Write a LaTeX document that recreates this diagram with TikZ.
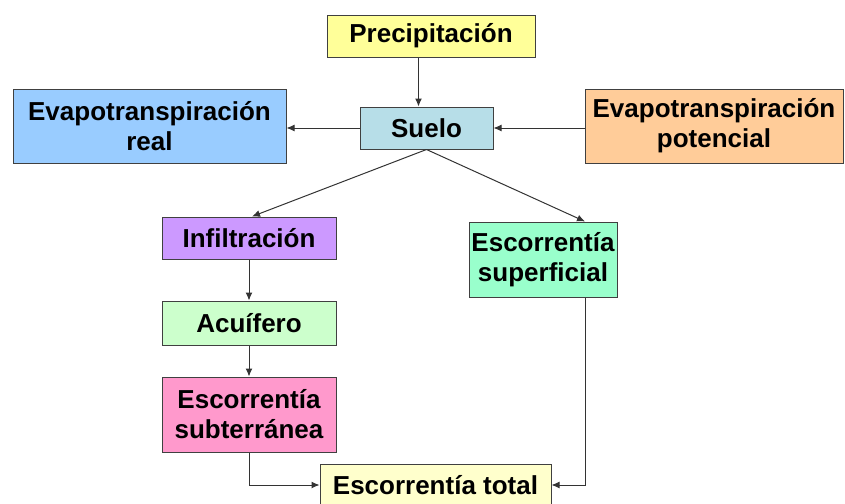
\documentclass[tikz,border=0pt]{standalone}
\usepackage{fontspec}
\setmainfont{Liberation Sans}
\usetikzlibrary{arrows.meta}

\definecolor{cprec}{RGB}{255,255,153}
\definecolor{csuelo}{RGB}{183,222,232}
\definecolor{creal}{RGB}{153,204,255}
\definecolor{cpot}{RGB}{255,204,153}
\definecolor{cinfil}{RGB}{204,153,255}
\definecolor{cacui}{RGB}{204,255,204}
\definecolor{csubt}{RGB}{255,153,204}
\definecolor{csup}{RGB}{153,255,204}
\definecolor{ctotal}{RGB}{255,255,204}

\begin{document}
\begin{tikzpicture}[x=0.5pt,y=-0.5pt,
  box/.style={draw=black!75, line width=0.5pt, align=center, inner sep=0pt,
    font=\fontsize{13}{15}\selectfont\bfseries},
  flow/.style={-{Latex[length=4pt,width=3.5pt]}, line width=0.5pt, black!80}]
  \useasboundingbox (0,0) rectangle (845,503);

  \node[box, fill=cprec, minimum width=104pt, minimum height=21pt] (prec) at (431,36) {Precipitación};
  \node[box, fill=csuelo, minimum width=66.5pt, minimum height=21pt] (suelo) at (426.5,128) {Suelo};
  \node[box, fill=creal, minimum width=136.5pt, minimum height=37pt] (real) at (149.5,126) {Evapotranspiración\\real};
  \node[box, fill=cpot, minimum width=129pt, minimum height=37pt] (pot) at (714,126) {Evapotranspiración\\potencial};
  \node[box, fill=cinfil, minimum width=87pt, minimum height=21pt] (infil) at (249,238) {Infiltración};
  \node[box, fill=cacui, minimum width=87pt, minimum height=22pt] (acui) at (249,323) {Acuífero};
  \node[box, fill=csubt, minimum width=87pt, minimum height=37.5pt] (subt) at (249,414.5) {Escorrentía\\subterránea};
  \node[box, fill=csup, minimum width=74pt, minimum height=37.5pt] (sup) at (543,259.5) {Escorrentía\\superficial};
  \node[box, fill=ctotal, minimum width=115.5pt, minimum height=21pt] (total) at (435.5,485) {Escorrentía total};

  % flujos
  \draw[flow] ([xshift=-4pt]suelo.north |- prec.south) -- ([xshift=-4pt]suelo.north);
  \draw[flow] (suelo.west) -- (suelo.west -| real.east);
  \draw[flow] (pot.west |- suelo.east) -- (suelo.east);
  \draw[flow] (suelo.south) -- ([xshift=1.5pt]infil.north);
  \draw[flow] (suelo.south) -- ([xshift=21pt]sup.north);
  \draw[flow] (infil) -- (acui);
  \draw[flow] (acui) -- (subt);
  \draw[flow] (subt.south) |- (total.west);
  \draw[flow] ([xshift=21pt]sup.south) |- (total.east);
\end{tikzpicture}
\end{document}
